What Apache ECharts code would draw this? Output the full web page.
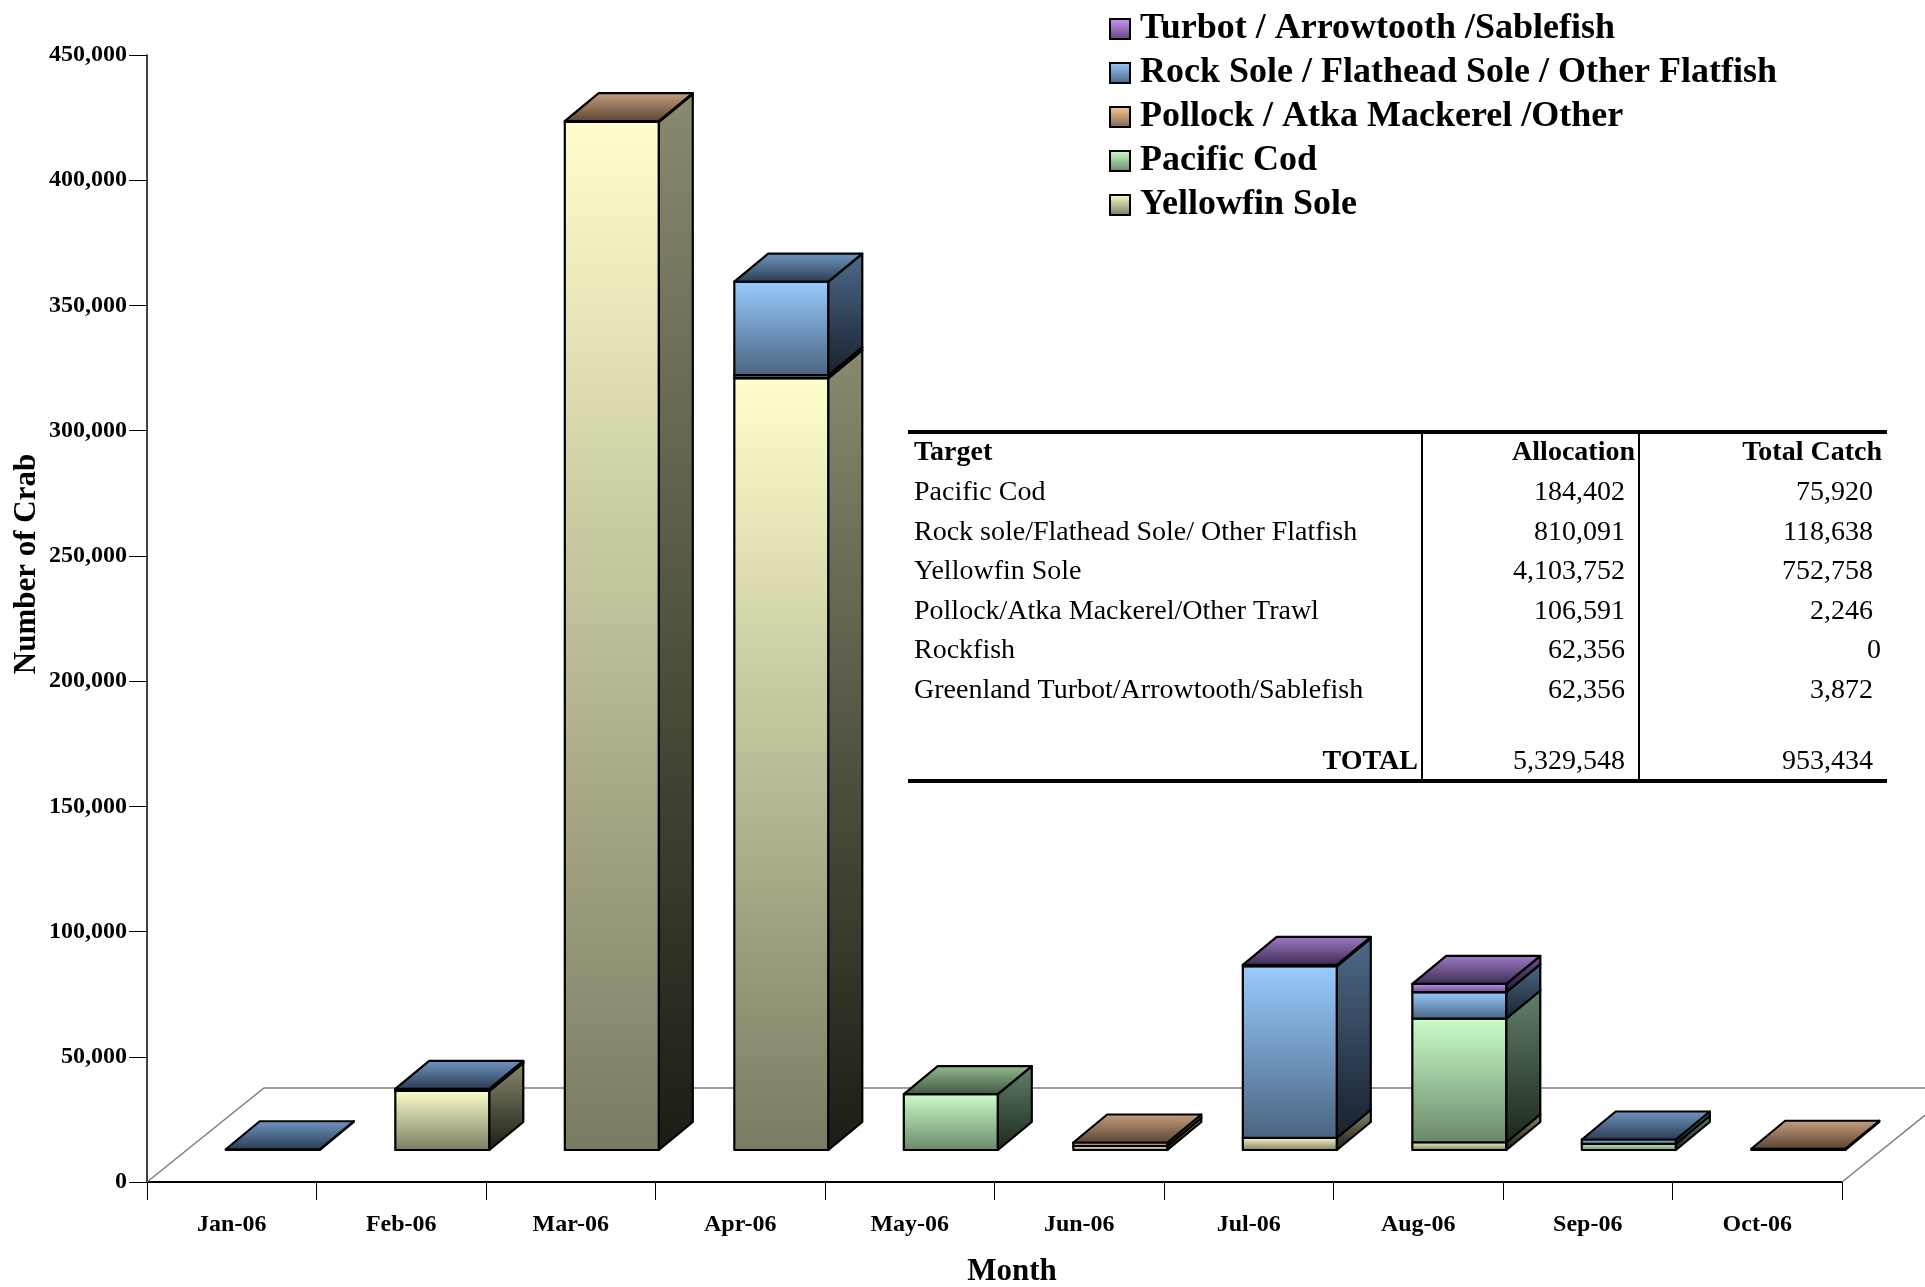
<!DOCTYPE html>
<html><head><meta charset="utf-8">
<script src="https://cdn.jsdelivr.net/npm/echarts/dist/echarts.min.js"></script>
<style>html,body{margin:0;padding:0;background:#fff}#c{width:1925px;height:1287px}</style>
</head><body><div id="c"></div>
<script>
// ---------- DATA ----------
const months = ['Jan-06','Feb-06','Mar-06','Apr-06','May-06','Jun-06','Jul-06','Aug-06','Sep-06','Oct-06'];
const yellowfin  = [0, 23600, 410500, 308200, 0, 1600, 4900, 3100, 0, 0];
const pacificCod = [0, 500, 0, 1200, 22300, 0, 0, 49400, 2500, 0];
const pollock    = [0, 0, 300, 0, 0, 1400, 0, 0, 0, 500];
const rockSole   = [300, 300, 0, 37300, 0, 0, 68500, 10500, 1700, 0];
const turbot     = [0, 0, 0, 0, 0, 0, 500, 3300, 0, 0];
const yMin = 0, yMax = 450000, yStep = 50000;

const tableHeader = ['Target', 'Allocation', 'Total Catch'];
const tableTargets = ['Pacific Cod', 'Rock sole/Flathead Sole/ Other Flatfish', 'Yellowfin Sole',
  'Pollock/Atka Mackerel/Other Trawl', 'Rockfish', 'Greenland Turbot/Arrowtooth/Sablefish'];
const tableAllocation = ['184,402', '810,091', '4,103,752', '106,591', '62,356', '62,356'];
const tableCatch = ['75,920', '118,638', '752,758', '2,246', '0', '3,872'];
const tableTotal = ['TOTAL', '5,329,548', '953,434'];

// ---------- STYLE ----------
const FONT = "'Liberation Serif','Times New Roman',serif";
const seriesDefs = [
  {name: 'Yellowfin Sole', values: yellowfin,
   front: ['#FFFFCC', '#7A7A62'], side: ['#8A8A6E', '#1C1C15'], top: ['#C8C8A0', '#6A6A52']},
  {name: 'Pacific Cod', values: pacificCod,
   front: ['#CCFFCC', '#688868'], side: ['#62806A', '#1C281C'], top: ['#94BC94', '#3E563E']},
  {name: 'Pollock / Atka Mackerel /Other', values: pollock,
   front: ['#FFCC99', '#7E6450'], side: ['#8A7058', '#2A2018'], top: ['#C8A080', '#5A4232']},
  {name: 'Rock Sole / Flathead Sole / Other Flatfish', values: rockSole,
   front: ['#99CCFF', '#4A6480'], side: ['#4E6A8A', '#18202C'], top: ['#7098C4', '#2A3A50']},
  {name: 'Turbot / Arrowtooth /Sablefish', values: turbot,
   front: ['#CC99FF', '#5E4678'], side: ['#6E5490', '#201830'], top: ['#A07CC8', '#3A2A50']}
];
const legendOrder = seriesDefs.map(d => d.name).reverse();

function grad(c) {
  return new echarts.graphic.LinearGradient(0, 0, 0, 1, [{offset: 0, color: c[0]}, {offset: 1, color: c[1]}]);
}

// 3D geometry (relative to category band)
const PLANE_DY = -32;
const FRONT_X0 = -0.035;
const FRONT_W = 0.555;
const DEPTH_X = 0.2;
const DEPTH_Y = -28;
const FLOOR_DX = 0.69;
const FLOOR_DY = -94;

function makeRender(d) {
  return function (params, api) {
    const idx = api.value(0), base = api.value(1), top = api.value(2);
    if (!(top > base)) return {type: 'group', children: []};
    const p0 = api.coord([idx, base]);
    const p1 = api.coord([idx, top]);
    const band = api.size([1, 0])[0];
    const x0 = p0[0] + FRONT_X0 * band, x1 = x0 + FRONT_W * band;
    const yb = p0[1] + PLANE_DY, yt = p1[1] + PLANE_DY;
    const dx = DEPTH_X * band, dy = DEPTH_Y;
    const stroke = {stroke: '#000', lineWidth: 2.2, lineJoin: 'round'};
    return {
      type: 'group',
      children: [
        {type: 'rect', shape: {x: x0, y: yt, width: x1 - x0, height: Math.max(yb - yt, 0.5)},
         style: Object.assign({fill: grad(d.front)}, stroke)},
        {type: 'polygon', shape: {points: [[x1, yt], [x1 + dx, yt + dy], [x1 + dx, yb + dy], [x1, yb]]},
         style: Object.assign({fill: grad(d.side)}, stroke)},
        {type: 'polygon', shape: {points: [[x0, yt], [x1, yt], [x1 + dx, yt + dy], [x0 + dx, yt + dy]]},
         style: Object.assign({fill: grad(d.top)}, stroke)}
      ]
    };
  };
}

const series = [];
series.push({
  type: 'custom', silent: true, clip: false, z: 1,
  data: [[0, 0]], encode: {x: 0, y: 1},
  renderItem: function (params, api) {
    const band = api.size([1, 0])[0];
    const a = api.coord([0, 0]), b = api.coord([months.length - 1, 0]);
    const lx = a[0] - band / 2, rx = b[0] + band / 2, y = a[1];
    const dx = FLOOR_DX * band, dy = FLOOR_DY;
    const st = {stroke: '#7f7f7f', lineWidth: 1.5, fill: null};
    return {type: 'group', children: [
      {type: 'polyline', shape: {points: [[lx, y], [lx + dx, y + dy], [rx + dx, y + dy], [rx, y]]}, style: st}
    ]};
  }
});
const cum = months.map(() => 0);
seriesDefs.forEach((d, si) => {
  const data = months.map((m, i) => { const b = cum[i]; cum[i] += d.values[i]; return [i, b, cum[i]]; });
  series.push({
    type: 'custom', name: d.name, clip: false, z: 3 + si,
    data: data, encode: {x: 0, y: [1, 2]},
    itemStyle: {color: grad(d.front), borderColor: '#000', borderWidth: 2},
    renderItem: makeRender(d)
  });
});

// ---------- TABLE (graphic) ----------
const TBL = {left: 908, right: 1887, top: 432, bottom: 781, v1: 1422, v2: 1639,
  textX: 914, allocR: 1625, catchR: 1873, headY: 453, rowY0: 493, rowH: 39.5, totalY: 762};
const tFont = (bold) => ({fontFamily: FONT, fontSize: 28, fontWeight: bold ? 'bold' : 'normal', fill: '#000'});
const graphics = [];
graphics.push({type: 'line', shape: {x1: TBL.left, y1: TBL.top, x2: TBL.right, y2: TBL.top}, style: {stroke: '#000', lineWidth: 4}});
graphics.push({type: 'line', shape: {x1: TBL.left, y1: TBL.bottom, x2: TBL.right, y2: TBL.bottom}, style: {stroke: '#000', lineWidth: 4}});
graphics.push({type: 'line', shape: {x1: TBL.v1, y1: TBL.top, x2: TBL.v1, y2: TBL.bottom}, style: {stroke: '#000', lineWidth: 2}});
graphics.push({type: 'line', shape: {x1: TBL.v2, y1: TBL.top, x2: TBL.v2, y2: TBL.bottom}, style: {stroke: '#000', lineWidth: 2}});
graphics.push({type: 'text', x: TBL.textX, y: TBL.headY, style: Object.assign({text: tableHeader[0], align: 'left', verticalAlign: 'middle'}, tFont(true))});
graphics.push({type: 'text', x: TBL.allocR + 10, y: TBL.headY, style: Object.assign({text: tableHeader[1], align: 'right', verticalAlign: 'middle'}, tFont(true))});
graphics.push({type: 'text', x: TBL.catchR + 9, y: TBL.headY, style: Object.assign({text: tableHeader[2], align: 'right', verticalAlign: 'middle'}, tFont(true))});
tableTargets.forEach((t, i) => {
  const y = TBL.rowY0 + i * TBL.rowH;
  graphics.push({type: 'text', x: TBL.textX, y: y, style: Object.assign({text: t, align: 'left', verticalAlign: 'middle'}, tFont(false))});
  graphics.push({type: 'text', x: TBL.allocR, y: y, style: Object.assign({text: tableAllocation[i], align: 'right', verticalAlign: 'middle'}, tFont(false))});
  const cr = tableCatch[i] === '0' ? TBL.catchR + 8 : TBL.catchR;
  graphics.push({type: 'text', x: cr, y: y, style: Object.assign({text: tableCatch[i], align: 'right', verticalAlign: 'middle'}, tFont(false))});
});
graphics.push({type: 'text', x: TBL.v1 - 4, y: TBL.totalY, style: Object.assign({text: tableTotal[0], align: 'right', verticalAlign: 'middle'}, tFont(true))});
graphics.push({type: 'text', x: TBL.allocR, y: TBL.totalY, style: Object.assign({text: tableTotal[1], align: 'right', verticalAlign: 'middle'}, tFont(false))});
graphics.push({type: 'text', x: TBL.catchR, y: TBL.totalY, style: Object.assign({text: tableTotal[2], align: 'right', verticalAlign: 'middle'}, tFont(false))});
graphics.push({type: 'text', x: 27, y: 564, rotation: Math.PI / 2,
  style: {text: 'Number of Crab', align: 'center', verticalAlign: 'middle', fontFamily: FONT, fontSize: 31, fontWeight: 'bold', fill: '#000'}});
graphics.push({type: 'text', x: 1012, y: 1272,
  style: {text: 'Month', align: 'center', verticalAlign: 'middle', fontFamily: FONT, fontSize: 31, fontWeight: 'bold', fill: '#000'}});

const chart = echarts.init(document.getElementById('c'), null, {renderer: 'canvas'});
chart.setOption({
  animation: false,
  backgroundColor: '#ffffff',
  grid: {left: 147, right: 83, top: 55, bottom: 105, containLabel: false, outerBoundsMode: 'none'},
  legend: {
    data: legendOrder, orient: 'vertical', left: 1104, top: 6,
    itemWidth: 20, itemHeight: 20, itemGap: 8, icon: 'rect',
    itemStyle: {borderColor: '#000', borderWidth: 2},
    selectedMode: false,
    textStyle: {fontFamily: FONT, fontSize: 36, fontWeight: 'bold', color: '#000', lineHeight: 36, padding: [0, 0, 0, 5]}
  },
  xAxis: {
    type: 'category', data: months, boundaryGap: true,
    axisLine: {show: true, lineStyle: {color: '#000', width: 2}},
    axisTick: {show: true, length: 18, lineStyle: {color: '#000', width: 1}},
    axisLabel: {margin: 31, fontFamily: FONT, fontSize: 24, fontWeight: 'bold', color: '#000'},
    splitLine: {show: false}
  },
  yAxis: {
    type: 'value', min: yMin, max: yMax, interval: yStep,
    axisLine: {show: true, lineStyle: {color: '#000', width: 1.5}},
    axisTick: {show: true, length: 18, lineStyle: {color: '#000', width: 1}},
    axisLabel: {margin: 20, fontFamily: FONT, fontSize: 24, fontWeight: 'bold', color: '#000',
      formatter: v => v.toLocaleString('en-US')},
    splitLine: {show: false}
  },
  graphic: {elements: graphics},
  series: series
});
</script></body></html>
